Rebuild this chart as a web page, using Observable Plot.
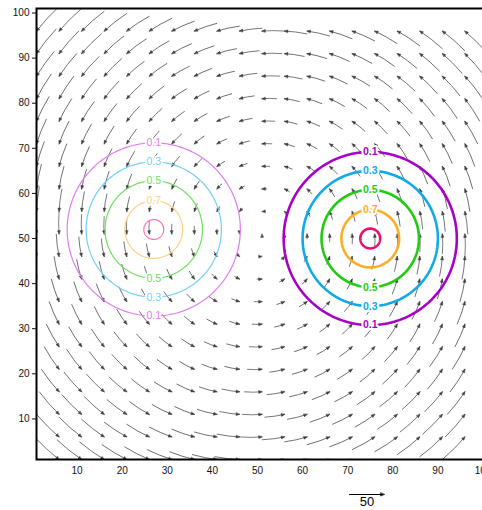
<!DOCTYPE html>
<html>
<head>
<meta charset="utf-8">
<script src="https://cdn.jsdelivr.net/npm/d3@7"></script>
<script src="https://cdn.jsdelivr.net/npm/@observablehq/plot@0.6"></script>
<style>
  html, body { margin: 0; padding: 0; background: #fff; overflow: hidden; }
  #chart svg { max-width: none !important; }
</style>
</head>
<body>
<div id="chart"></div>
<script>
// Sampling grid of the flow field (data coordinates)
const gridX = [1, 6, 11, 16, 21, 26, 31, 36, 41, 46, 51, 56, 61, 66, 71, 76, 81, 86, 91, 96];
const gridY = [1, 6, 11, 16, 21, 26, 31, 36, 41, 46, 51, 56, 61, 66, 71, 76, 81, 86, 91, 96];

// Eastward speed along each row of the grid (bottom to top)
const uByRow = [35, 32, 28, 25, 21, 18, 14, 11, 7, 4, 0, -4, -7, -11, -14, -18, -21, -25, -28, -32];
// Northward speed along each column of the grid (left to right)
const vByCol = [-35, -32, -28, -25, -21, -18, -14, -11, -7, -4, 0, 4, 7, 11, 14, 18, 21, 25, 28, 32];

// Reference vector magnitude
const refMagnitude = [50];

// Contour levels of the two cones and the radius of each contour ring
const levels = [0.1, 0.3, 0.5, 0.7, 0.9];
const ringRadius = [19.2, 15.0, 10.8, 6.4, 2.2];
const labelTop = [true, true, true, true, false];
const labelBottom = [true, true, true, false, false];

// Centres of the two cones
const westCentre = [27, 52];
const eastCentre = [75, 50];

// Axis tick values
const xTicks = [10, 20, 30, 40, 50, 60, 70, 80, 90, 100];
const yTicks = [10, 20, 30, 40, 50, 60, 70, 80, 90, 100];

// ---- styling ----
const westColors = ["#e07cf2", "#72cff8", "#6ee05c", "#ffcf7e", "#ff70ad"];
const eastColors = ["#a900c9", "#12a9e8", "#1fcc0f", "#ffad26", "#ee0f6c"];
const shaftColor = "#5c5c5c";
const headColor = "#3a3a3a";

// flow table built from the row / column components
const wind = [];
gridY.forEach((y, i) => gridX.forEach((x, j) => {
  const u = uByRow[i], v = vByCol[j];
  wind.push({x, y, speed: Math.hypot(u, v), dir: Math.atan2(u, v) * 180 / Math.PI});
}));

// curved shaft bending to the left (counter-clockwise flow)
const BEND = 0.16, HEAD = 3.3, WING = 1.3;
const curlyShaft = {
  draw(ctx, l) {
    if (l <= HEAD) return;
    ctx.moveTo(0, 0);
    ctx.quadraticCurveTo(l * BEND / 4, -l / 2, 0, -l);
  }
};
function headShape(psi, size = HEAD, wing = WING) {
  return {
    draw(ctx, l) {
      const sx = Math.sin(psi), cy = Math.cos(psi);
      const bx = sx * size, by = -l + cy * size;
      ctx.moveTo(0, -l);
      ctx.lineTo(bx + cy * wing, by - sx * wing);
      ctx.lineTo(bx - cy * wing, by + sx * wing);
      ctx.closePath();
    }
  };
}
const straightShaft = {
  draw(ctx, l) { ctx.moveTo(0, 0); ctx.lineTo(0, -l + 3); }
};

function ring(c, r) {
  return d3.range(0, 361, 2).map(a => [c[0] + r * Math.cos(a * Math.PI / 180), c[1] + r * Math.sin(a * Math.PI / 180)]);
}

function coneMarks(centre, colors, width, weight) {
  const marks = [];
  levels.forEach((lev, i) => {
    marks.push(Plot.line(ring(centre, ringRadius[i]), {stroke: colors[i], strokeWidth: width, clip: true}));
  });
  const labels = [];
  levels.forEach((lev, i) => {
    if (labelTop[i]) labels.push({x: centre[0], y: centre[1] + ringRadius[i], t: String(lev), c: colors[i]});
    if (labelBottom[i]) labels.push({x: centre[0], y: centre[1] - ringRadius[i], t: String(lev), c: colors[i]});
  });
  marks.push(Plot.text(labels, {
    x: "x", y: "y", text: "t", fill: d => d.c,
    stroke: "white", strokeWidth: 4, paintOrder: "stroke",
    fontSize: 10.5, fontWeight: weight
  }));
  return marks;
}

const chart = Plot.plot({
  width: 487,
  height: 510,
  marginLeft: 36,
  marginRight: 0,
  marginTop: 8,
  marginBottom: 51,
  style: {fontFamily: "'Liberation Sans', Arial, sans-serif", background: "#fff", color: "#111"},
  x: {domain: [1, 101], label: null},
  y: {domain: [1, 101], label: null},
  length: {domain: [0, 50], range: [0, 35]},
  marks: [
    Plot.vector(wind, {
      x: "x", y: "y", length: "speed", rotate: "dir", anchor: "end",
      shape: curlyShaft, stroke: shaftColor, strokeWidth: 0.8, clip: true
    }),
    Plot.vector(wind, {
      x: "x", y: "y", length: "speed", rotate: "dir", anchor: "end",
      shape: headShape(BEND / 2), stroke: headColor, fill: headColor, strokeWidth: 0.5, clip: true
    }),
    ...coneMarks(westCentre, westColors, 1.2, "normal"),
    ...coneMarks(eastCentre, eastColors, 2.6, "bold"),
    Plot.frame({stroke: "#000", strokeWidth: 2}),
    Plot.axisX(xTicks, {tickSize: 0, tickPadding: 7, fontSize: 10, label: null}),
    Plot.axisY(yTicks, {tickSize: 4, tickPadding: 3, fontSize: 10, label: null}),
    // reference vector
    Plot.vector(refMagnitude, {
      frameAnchor: "bottom", dx: 105, dy: 35, length: d => d, rotate: 90, anchor: "middle",
      shape: straightShaft, stroke: "#000", strokeWidth: 1
    }),
    Plot.vector(refMagnitude, {
      frameAnchor: "bottom", dx: 105, dy: 35, length: d => d, rotate: 90, anchor: "middle",
      shape: headShape(0, 4, 1.6), stroke: "#000", fill: "#000", strokeWidth: 0.5
    }),
    Plot.text(refMagnitude, {
      frameAnchor: "bottom", dx: 105, dy: 46, text: d => String(d), fontSize: 13, fill: "#000"
    })
  ]
});
document.getElementById("chart").appendChild(chart);
</script>
</body>
</html>
